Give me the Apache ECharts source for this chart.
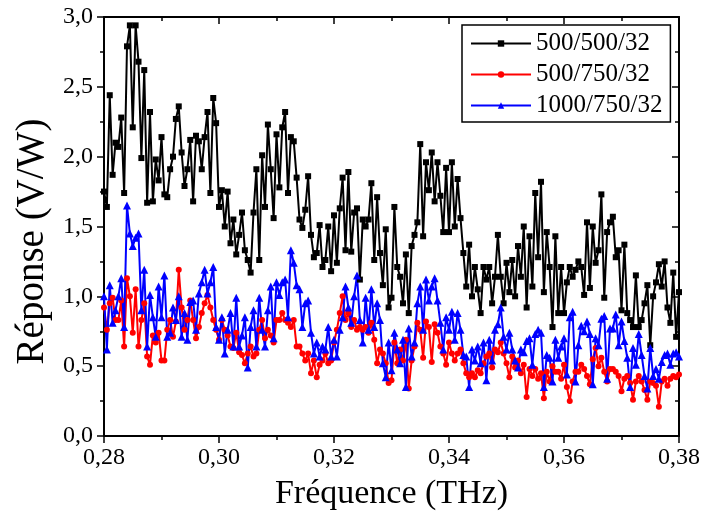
<!DOCTYPE html>
<html><head><meta charset="utf-8">
<script src="https://cdn.jsdelivr.net/npm/echarts@6/dist/echarts.min.js"></script>
<style>html,body{margin:0;padding:0;background:#fff}#c{width:703px;height:525px}</style>
</head><body><div id="c"></div>
<script>
// Sampling grid of the measurement (THz)
const freqStart = 0.28, freqStep = 0.0005;
const seriesNames = ['500/500/32', '500/750/32', '1000/750/32'];
const xTickValues = [0.28, 0.30, 0.32, 0.34, 0.36, 0.38];
const yTickValues = [0.0, 0.5, 1.0, 1.5, 2.0, 2.5, 3.0];

const resp500_500 = [
1.75,1.64,2.44,1.87,2.1,2.07,2.28,1.74,2.79,2.94,
2.21,2.94,2.68,1.99,2.62,1.67,2.32,1.68,1.98,1.83,
2.14,1.73,1.71,1.91,2.0,2.27,2.36,2.03,1.79,1.91,
2.12,1.68,2.15,2.11,1.91,2.14,2.32,1.74,2.42,2.24,
1.64,1.76,1.5,1.75,1.38,1.55,1.3,1.44,1.6,1.33,
1.26,1.17,1.6,1.91,1.26,2.01,1.64,2.23,1.91,1.56,
2.16,1.78,2.21,2.32,1.74,2.14,2.11,1.85,1.55,1.49,
1.62,1.86,1.44,1.28,1.31,1.51,1.21,1.26,1.5,1.18,
1.58,1.24,1.63,1.85,1.33,1.89,1.32,1.6,1.63,1.12,
1.55,1.5,1.55,1.81,1.26,1.71,1.31,1.08,1.48,0.92,
0.99,1.64,1.21,1.14,0.95,1.3,0.88,1.36,1.44,1.53,
2.09,1.43,1.96,1.76,2.03,1.68,1.96,1.72,1.46,1.92,
1.46,1.96,1.5,1.84,1.56,1.31,1.07,1.37,1.0,1.21,
1.05,0.88,1.21,1.12,1.21,0.95,1.14,1.44,1.14,0.95,
1.24,1.03,1.26,1.0,1.36,1.14,1.5,0.92,1.43,1.07,
1.74,1.28,1.82,1.03,1.46,1.21,0.78,1.43,0.88,1.21,
0.88,1.1,1.21,1.14,1.19,1.25,1.21,1.01,1.53,1.06,
1.5,1.24,1.33,1.73,0.99,1.46,1.53,1.57,1.28,1.33,
0.9,1.37,0.88,0.83,0.78,1.15,0.78,0.83,0.95,1.08,
0.65,1.0,1.1,1.23,1.07,1.25,0.92,0.81,1.17,0.71,
1.03];

const resp500_750 = [
0.92,0.76,0.95,0.99,0.83,0.83,0.97,0.64,1.13,1.0,
0.74,1.05,0.64,0.83,0.95,0.57,0.51,0.72,0.67,0.74,
0.54,0.54,0.76,0.83,0.71,0.82,1.19,0.92,0.76,0.83,
0.97,0.83,0.7,0.78,0.88,0.95,1.01,0.92,0.83,0.76,
0.69,0.83,0.76,0.72,0.64,0.63,0.74,0.6,0.58,0.52,
0.59,0.64,0.57,0.59,0.76,0.83,0.7,0.76,0.72,0.67,
0.83,0.83,0.88,0.83,0.81,0.78,0.83,0.64,0.64,0.59,
0.54,0.59,0.45,0.54,0.42,0.51,0.54,0.59,0.52,0.54,
0.67,0.76,0.88,1.0,0.83,0.88,0.78,0.83,0.76,0.78,
0.76,0.78,0.74,0.81,0.69,0.52,0.62,0.59,0.52,0.38,
0.4,0.67,0.52,0.62,0.54,0.69,0.34,0.54,0.64,0.81,
0.76,0.56,0.82,0.78,0.53,0.8,0.74,0.64,0.59,0.51,
0.67,0.59,0.54,0.59,0.62,0.52,0.45,0.42,0.45,0.42,
0.47,0.45,0.52,0.57,0.59,0.49,0.62,0.6,0.67,0.59,
0.52,0.42,0.57,0.49,0.54,0.45,0.51,0.28,0.48,0.43,
0.48,0.41,0.45,0.27,0.46,0.39,0.5,0.46,0.46,0.41,
0.51,0.35,0.25,0.39,0.46,0.46,0.51,0.48,0.43,0.37,
0.55,0.63,0.5,0.56,0.46,0.39,0.48,0.48,0.46,0.43,
0.32,0.41,0.43,0.38,0.26,0.39,0.43,0.39,0.33,0.26,
0.39,0.38,0.36,0.21,0.39,0.41,0.36,0.41,0.43,0.42,
0.44];

const resp1000_750 = [
1.0,0.62,1.08,0.81,0.9,1.0,1.13,0.78,1.65,1.45,
1.36,1.42,1.45,0.9,1.19,0.64,1.01,0.85,0.71,1.07,
0.85,1.15,0.71,0.74,0.92,0.83,1.0,0.71,0.88,0.69,
0.96,0.97,0.76,1.02,1.1,1.19,1.02,1.1,1.21,0.78,
0.69,0.85,0.59,0.76,0.88,0.64,0.99,0.64,0.72,0.85,
0.49,0.78,0.9,0.64,0.99,0.76,0.64,0.9,1.07,0.7,
1.1,1.01,1.1,1.12,0.85,1.33,1.24,1.08,1.05,0.78,
0.95,0.97,0.74,0.59,0.67,0.57,0.64,0.62,0.78,0.57,
0.69,0.57,0.76,0.85,1.07,0.92,0.81,1.0,1.15,0.83,
0.67,0.99,0.76,1.05,0.78,0.95,0.83,0.52,0.42,0.67,
0.47,0.74,0.62,0.52,0.69,0.35,0.77,0.57,0.67,0.95,
1.07,0.76,1.12,0.97,1.07,1.13,0.97,0.81,0.62,0.85,
0.76,0.89,0.69,0.88,0.76,0.58,0.57,0.35,0.62,0.54,
0.64,0.52,0.67,0.4,0.69,0.54,0.76,0.8,0.92,0.71,
0.62,0.74,0.62,0.54,0.49,0.62,0.6,0.68,0.7,0.51,
0.73,0.76,0.74,0.35,0.58,0.56,0.39,0.69,0.56,0.64,
0.7,0.44,0.85,0.89,0.39,0.65,0.79,0.75,0.82,0.73,
0.37,0.7,0.65,0.84,0.86,0.41,0.77,0.77,0.87,0.65,
0.82,0.68,0.56,0.35,0.63,0.51,0.73,0.58,0.43,0.34,
0.63,0.43,0.48,0.41,0.53,0.58,0.59,0.51,0.59,0.6,
0.57];

const FONT = 'Liberation Serif';
function pairs(arr) {
  return arr.map((v, i) => [+(freqStart + i * freqStep).toFixed(4), v]);
}
const fmtX = v => v.toFixed(2).replace('.', ',');
const fmtY = v => v.toFixed(1).replace('.', ',');

const chart = echarts.init(document.getElementById('c'), null, {renderer: 'canvas'});
const axisLine = {show: true, onZero: false, lineStyle: {color: '#000', width: 2}};
const xBase = {type: 'value', min: xTickValues[0], max: xTickValues[xTickValues.length - 1], interval: 0.02,
  splitLine: {show: false}, axisLine: axisLine};
const yBase = {type: 'value', min: yTickValues[0], max: yTickValues[yTickValues.length - 1], interval: 0.5,
  splitLine: {show: false}, axisLine: axisLine};

chart.setOption({
  animation: false,
  backgroundColor: '#fff',
  grid: {left: 104, top: 17, width: 575, height: 419, containLabel: false},
  legend: {
    orient: 'vertical', left: 462, top: 25,
    padding: [6, 8, 4, 8], itemGap: 6, itemWidth: 60, itemHeight: 8,
    borderColor: '#000', borderWidth: 1.5,
    textStyle: {fontFamily: FONT, fontSize: 25, color: '#000'},
    data: seriesNames
  },
  xAxis: [
    Object.assign({}, xBase, {position: 'bottom',
      name: 'Fréquence (THz)', nameLocation: 'middle', nameGap: 41,
      nameTextStyle: {fontFamily: FONT, fontSize: 34, color: '#000'},
      axisTick: {show: true, inside: false, length: 7, lineStyle: {color: '#000', width: 1.5}},
      minorTick: {show: true, splitNumber: 2, length: 4, lineStyle: {color: '#000', width: 1.5}},
      axisLabel: {show: true, margin: 10, fontFamily: FONT, fontSize: 24, color: '#000', formatter: fmtX}}),
    Object.assign({}, xBase, {position: 'top',
      axisTick: {show: true, inside: true, length: 7, lineStyle: {color: '#000', width: 1.5}},
      minorTick: {show: true, splitNumber: 2, length: 4, lineStyle: {color: '#000', width: 1.5}},
      axisLabel: {show: false}})
  ],
  yAxis: [
    Object.assign({}, yBase, {position: 'left',
      name: 'Réponse (V/W)', nameLocation: 'middle', nameGap: 52,
      nameTextStyle: {fontFamily: FONT, fontSize: 39, color: '#000', padding: [0, 30, 0, 0]},
      axisTick: {show: true, inside: false, length: 7, lineStyle: {color: '#000', width: 1.5}},
      minorTick: {show: true, splitNumber: 2, length: 4, lineStyle: {color: '#000', width: 1.5}},
      axisLabel: {show: true, margin: 11, fontFamily: FONT, fontSize: 24, color: '#000', formatter: fmtY}}),
    Object.assign({}, yBase, {position: 'right',
      axisTick: {show: true, inside: true, length: 7, lineStyle: {color: '#000', width: 1.5}},
      minorTick: {show: true, splitNumber: 2, length: 4, lineStyle: {color: '#000', width: 1.5}},
      axisLabel: {show: false}})
  ],
  series: [
    {name: seriesNames[0], type: 'line', data: pairs(resp500_500), xAxisIndex: 0, yAxisIndex: 0,
      symbol: 'rect', symbolSize: 6, showAllSymbol: true,
      lineStyle: {color: '#000', width: 2}, itemStyle: {color: '#000'}},
    {name: seriesNames[1], type: 'line', data: pairs(resp500_750), xAxisIndex: 0, yAxisIndex: 0,
      symbol: 'circle', symbolSize: 6, showAllSymbol: true,
      lineStyle: {color: '#ff0000', width: 2}, itemStyle: {color: '#ff0000'}},
    {name: seriesNames[2], type: 'line', data: pairs(resp1000_750), xAxisIndex: 0, yAxisIndex: 0,
      symbol: 'triangle', symbolSize: 8, showAllSymbol: true,
      lineStyle: {color: '#0000ff', width: 2}, itemStyle: {color: '#0000ff'}}
  ]
});
</script></body></html>
